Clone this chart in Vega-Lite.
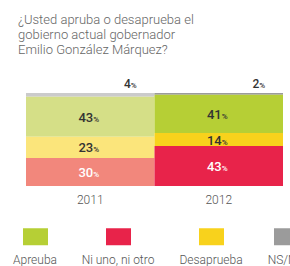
{
  "$schema": "https://vega.github.io/schema/vega-lite/v6.json",
  "width": 257,
  "height": 93,
  "autosize": {"type": "none"},
  "padding": {"left": 26, "top": 93, "right": 7, "bottom": 80},
  "background": "white",
  "config": {"view": {"stroke": null}, "font": "Roboto"},
  "title": {
    "text": ["¿Usted apruba o desaprueba el", "gobierno actual gobernador", "Emilio González Márquez?"],
    "anchor": "start",
    "frame": "group",
    "dx": -8,
    "offset": 21,
    "fontSize": 13,
    "font": "Roboto",
    "fontWeight": 300,
    "color": "#666666",
    "lineHeight": 15
  },
  "data": {
    "values": [
      {"year": "2011", "cat": "NS/NC", "value": 4},
      {"year": "2011", "cat": "Apreuba", "value": 43},
      {"year": "2011", "cat": "Desaprueba", "value": 23},
      {"year": "2011", "cat": "Ni uno, ni otro", "value": 30},
      {"year": "2012", "cat": "NS/NC", "value": 2},
      {"year": "2012", "cat": "Apreuba", "value": 41},
      {"year": "2012", "cat": "Desaprueba", "value": 14},
      {"year": "2012", "cat": "Ni uno, ni otro", "value": 43}
    ]
  },
  "transform": [
    {"calculate": "indexof(['Ni uno, ni otro','Desaprueba','Apreuba','NS/NC'], datum.cat)", "as": "ord"},
    {"calculate": "datum.year + '|' + datum.cat", "as": "shade"},
    {"stack": "value", "groupby": ["year"], "sort": [{"field": "ord"}], "as": ["v0", "v1"]},
    {"calculate": "(datum.v0 + datum.v1) / 2", "as": "mid"}
  ],
  "encoding": {
    "x": {
      "field": "year",
      "type": "ordinal",
      "scale": {"paddingInner": 0, "paddingOuter": 0},
      "axis": {
        "title": null,
        "domain": false,
        "ticks": false,
        "labelAngle": 0,
        "labelPadding": 8,
        "labelFontSize": 12,
        "labelFont": "Roboto",
        "labelFontWeight": 300,
        "labelColor": "#555555"
      }
    }
  },
  "layer": [
    {
      "mark": {"type": "bar"},
      "encoding": {
        "y": {"field": "v0", "type": "quantitative", "scale": {"domain": [0, 100]}, "axis": null},
        "y2": {"field": "v1"},
        "color": {
          "field": "shade",
          "type": "nominal",
          "legend": null,
          "scale": {
            "domain": ["2011|Apreuba", "2011|Ni uno, ni otro", "2011|Desaprueba", "2011|NS/NC", "2012|Apreuba", "2012|Ni uno, ni otro", "2012|Desaprueba", "2012|NS/NC"],
            "range": ["#d5df87", "#f2877c", "#fbe57b", "#cbcbcb", "#b6cf35", "#e8234a", "#f8d21c", "#9b9b9b"]
          }
        }
      }
    },
    {
      "transform": [{"filter": "datum.cat !== 'NS/NC'"}],
      "mark": {"type": "text", "align": "right", "baseline": "alphabetic", "dx": 3, "dy": 5, "fontSize": 13, "fontWeight": 500},
      "encoding": {
        "y": {"field": "mid", "type": "quantitative"},
        "text": {"field": "value", "type": "quantitative"},
        "color": {"condition": {"test": "datum.cat === 'Ni uno, ni otro'", "value": "#ffffff"}, "value": "#333333"}
      }
    },
    {
      "transform": [{"filter": "datum.cat !== 'NS/NC'"}],
      "mark": {"type": "text", "align": "left", "baseline": "alphabetic", "dx": 3, "dy": 5, "fontSize": 8, "fontWeight": 500},
      "encoding": {
        "y": {"field": "mid", "type": "quantitative"},
        "text": {"value": "%"},
        "color": {"condition": {"test": "datum.cat === 'Ni uno, ni otro'", "value": "#ffffff"}, "value": "#333333"}
      }
    },
    {
      "transform": [{"filter": "datum.cat === 'NS/NC'"}],
      "mark": {"type": "text", "align": "right", "baseline": "alphabetic", "dx": 2, "dy": -5, "fontSize": 12, "fontWeight": 500, "color": "#333333"},
      "encoding": {
        "x": {"field": "year", "type": "ordinal", "bandPosition": 0.8},
        "y": {"field": "v1", "type": "quantitative"},
        "text": {"field": "value", "type": "quantitative"}
      }
    },
    {
      "transform": [{"filter": "datum.cat === 'NS/NC'"}],
      "mark": {"type": "text", "align": "left", "baseline": "alphabetic", "dx": 2, "dy": -5, "fontSize": 8, "fontWeight": 500, "color": "#333333"},
      "encoding": {
        "x": {"field": "year", "type": "ordinal", "bandPosition": 0.8},
        "y": {"field": "v1", "type": "quantitative"},
        "text": {"value": "%"}
      }
    },
    {
      "mark": {"type": "square", "opacity": 0},
      "encoding": {
        "color": {
          "field": "cat",
          "type": "nominal",
          "scale": {
            "domain": ["Apreuba", "Ni uno, ni otro", "Desaprueba", "NS/NC"],
            "range": ["#b6cf35", "#e8234a", "#f8d21c", "#9b9b9b"]
          },
          "legend": {
            "title": null,
            "orient": "none",
            "legendX": 1,
            "legendY": 135,
            "direction": "horizontal",
            "padding": 0,
            "symbolType": "M-1.47,-1H1.47V1H-1.47Z",
            "symbolSize": 289,
            "symbolOpacity": 1,
            "symbolStrokeWidth": 0,
            "labelAlign": "center",
            "labelOffset": -9,
            "labelFontSize": 12,
            "labelFont": "Roboto",
            "labelFontWeight": 300,
            "labelColor": "#555555",
            "labelLimit": 300,
            "columnPadding": 24,
            "encode": {"labels": {"update": {"dy": {"value": 23}}}}
          }
        }
      }
    }
  ],
  "resolve": {"scale": {"color": "independent"}}
}
